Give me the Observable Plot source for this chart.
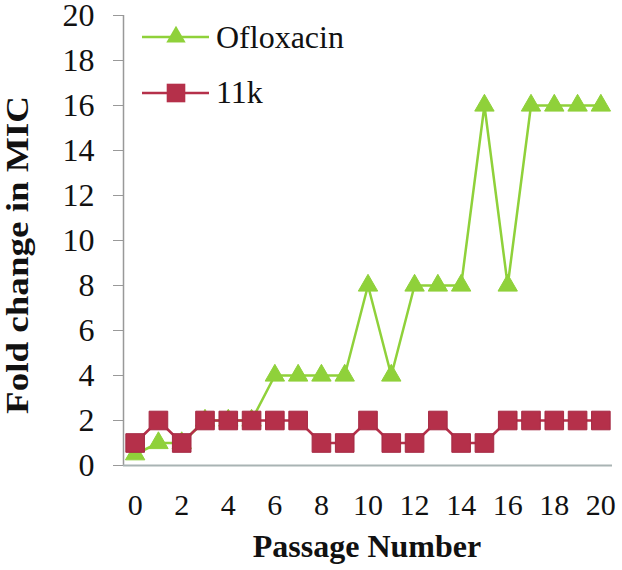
<!DOCTYPE html>
<html><head><meta charset="utf-8">
<script src="https://cdn.jsdelivr.net/npm/d3@7"></script>
<script src="https://cdn.jsdelivr.net/npm/@observablehq/plot@0.6"></script>
<style>
body{margin:0;background:#fff;overflow:hidden;}
#wrap{position:relative;width:622px;height:570px;}
#wrap svg{display:block;}
</style></head>
<body><div id="wrap"></div>
<script>
const passages = [0,1,2,3,4,5,6,7,8,9,10,11,12,13,14,15,16,17,18,19,20];
const ofloxacin = [0.5,1,1,2,2,2,4,4,4,4,8,4,8,8,8,16,8,16,16,16,16];
const k11 = [1,2,1,2,2,2,2,2,1,1,2,1,1,2,1,1,2,2,2,2,2];
const seriesNames = ["Ofloxacin","11k"];
const yTicks = [0,2,4,6,8,10,12,14,16,18,20];
const xTicks = [0,2,4,6,8,10,12,14,16,18,20];
const green = "#8fd13a", red = "#b5304a";
const FONT = "'Liberation Serif', 'Times New Roman', serif";

const oflo = passages.map((p,i)=>({x:p,y:ofloxacin[i]}));
const kk = passages.map((p,i)=>({x:p,y:k11[i]}));

const chart = Plot.plot({
  width:622, height:570,
  marginLeft:123, marginRight:10, marginTop:15, marginBottom:105,
  style:{fontSize:"30px", color:"#111", background:"#fff"},
  x:{domain:[-0.5,20.5], label:null},
  y:{domain:[0,20], label:null},
  marks:[
    Plot.axisX({ticks:xTicks, tickSize:0, tickPadding:28, fontSize:30, label:null}),
    Plot.axisY({ticks:yTicks, tickSize:10, tickPadding:19, fontSize:32, stroke:"#999", label:null, color:"#111"}),
    Plot.ruleX([-0.5], {stroke:"#999", strokeWidth:1.5}),
    Plot.ruleY([0], {stroke:"#a9b4b4", strokeWidth:2}),
    Plot.line(oflo, {x:"x", y:"y", stroke:green, strokeWidth:2.5}),
    Plot.dot(oflo, {x:"x", y:"y", symbol:"triangle", r:7.2, fill:green, stroke:green, strokeWidth:1}),
    Plot.line(kk, {x:"x", y:"y", stroke:red, strokeWidth:2.5}),
    Plot.dot(kk, {x:"x", y:"y", symbol:"square", r:10.5, fill:red, stroke:"#a52a44", strokeWidth:1, strokeLinejoin:"round"})
  ]
});
const wrap = document.getElementById("wrap");
wrap.appendChild(chart);

const svg = d3.select(chart);
svg.attr("font-family", FONT).style("font-family", FONT);
svg.append("text").attr("x",367).attr("y",557).attr("text-anchor","middle")
  .attr("font-weight","bold").style("font-size","32px").attr("fill","#111").text("Passage Number");
svg.append("text").attr("transform","translate(28,255) rotate(-90)").attr("text-anchor","middle")
  .attr("font-weight","bold").style("font-size","32px").attr("fill","#111")
  .attr("textLength",318).attr("lengthAdjust","spacingAndGlyphs").text("Fold change in MIC");

const lg = svg.append("g");
const items = [
  {name:seriesNames[0], color:green, sym:d3.symbolTriangle, size:Math.PI*7.2*7.2, y:37, ty:48},
  {name:seriesNames[1], color:red, sym:d3.symbolSquare, size:Math.PI*10.5*10.5, y:93, ty:103}
];
items.forEach(it=>{
  lg.append("line").attr("x1",142).attr("x2",209).attr("y1",it.y).attr("y2",it.y).attr("stroke",it.color).attr("stroke-width",2.5);
  lg.append("path").attr("d",d3.symbol(it.sym,it.size)()).attr("transform",`translate(176,${it.y})`).attr("fill",it.color);
  lg.append("text").attr("x",216).attr("y",it.ty).attr("text-anchor","start").style("font-size","32px").attr("fill","#111").text(it.name);
});
svg.selectAll("text, tspan").style("font-family", FONT);
</script></body></html>
